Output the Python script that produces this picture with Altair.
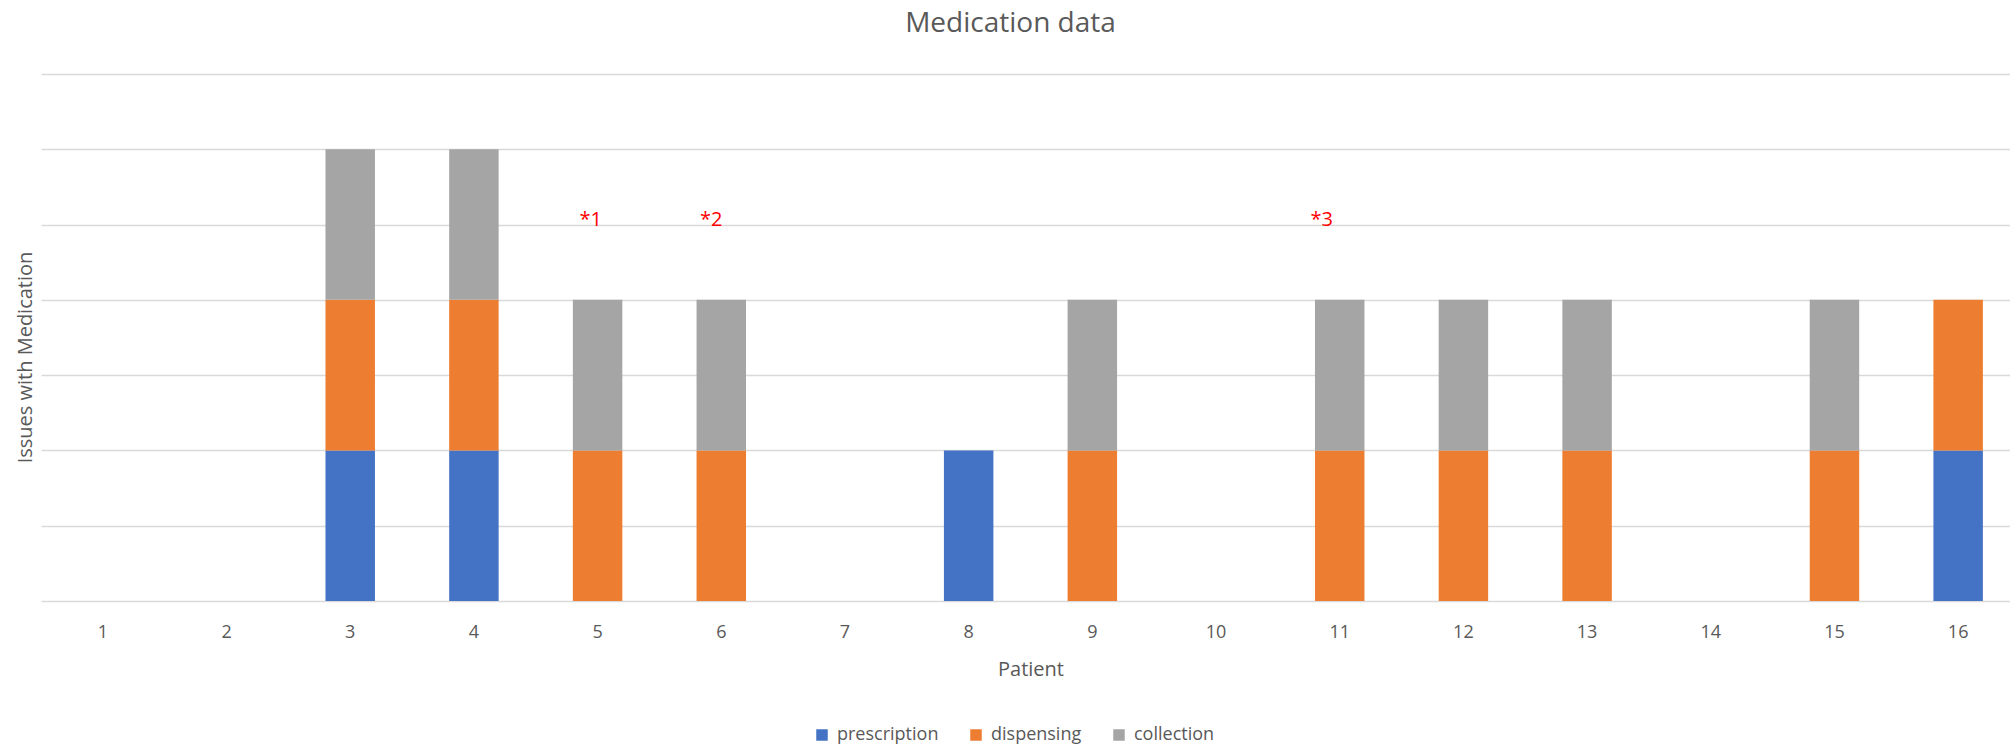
import altair as alt
import pandas as pd

# ---- data ----
patients = list(range(1, 17))
series = ["prescription", "dispensing", "collection"]
prescription = [0, 0, 1, 1, 0, 0, 0, 1, 0, 0, 0, 0, 0, 0, 0, 1]
dispensing = [0, 0, 1, 1, 1, 1, 0, 0, 1, 0, 1, 1, 1, 0, 1, 1]
collection = [0, 0, 1, 1, 1, 1, 0, 0, 1, 0, 1, 1, 1, 0, 1, 0]
colors = ["#4472C4", "#ED7D31", "#A5A5A5"]

note_labels = ["*1", "*2", "*3"]
note_patients = [5, 6, 11]
note_level = [2.5, 2.5, 2.5]
note_dx = [-7, -10, -18]

y_ticks = [0, 0.5, 1, 1.5, 2, 2.5, 3, 3.5]

FONT = "Open Sans"
TXT = "#595959"

rows = []
for name, vals in zip(series, [prescription, dispensing, collection]):
    for p, v in zip(patients, vals):
        rows.append({"Patient": p, "series": name, "order": series.index(name), "value": v})
df = pd.DataFrame(rows)

x_enc = alt.X(
    "Patient:O",
    scale=alt.Scale(domain=patients, paddingInner=0.6, paddingOuter=0.3, range=[0, 1979]),
    axis=alt.Axis(
        title="Patient", labelAngle=0, ticks=False, tickSize=0, domain=False, grid=False,
        labelPadding=22, labelFontSize=18, labelColor=TXT, labelFont=FONT,
        titleFontSize=20, titleColor=TXT, titleFont=FONT, titleFontWeight="normal",
        titleY=74, titleBaseline="alphabetic",
    ),
)

bars = alt.Chart(df).mark_bar().encode(
    x=x_enc,
    y=alt.Y(
        "value:Q",
        stack="zero",
        scale=alt.Scale(domain=[0, 3.5], nice=False),
        axis=alt.Axis(
            title="Issues with Medication", values=y_ticks, labels=False, ticks=False,
            domain=False, grid=True, gridColor="#d9d9d9", gridWidth=1.5,
            titleFontSize=20, titleColor=TXT, titleFont=FONT, titleFontWeight="normal",
            titleAngle=270, titleX=-10, titleY=283, titleAlign="center", titleBaseline="alphabetic",
        ),
    ),
    color=alt.Color(
        "series:N",
        scale=alt.Scale(domain=series, range=colors),
        legend=alt.Legend(
            title=None, orient="none", direction="horizontal", legendX=772, legendY=652,
            symbolType="square", symbolSize=132, symbolStrokeWidth=0, labelFontSize=18,
            labelFont=FONT, labelColor=TXT, labelOffset=6, columnPadding=28, padding=0,
        ),
    ),
    order=alt.Order("order:Q"),
)

layers = [bars]
for lab, p, lv, dx in zip(note_labels, note_patients, note_level, note_dx):
    ndf = pd.DataFrame({"Patient": [p], "level": [lv], "label": [lab]})
    layers.append(
        alt.Chart(ndf).mark_text(
            color="#FF0000", fontSize=20, font=FONT, baseline="alphabetic", align="center", dx=dx, dy=1
        ).encode(
            x=alt.X("Patient:O"),
            y=alt.Y("level:Q"),
            text="label:N",
        )
    )

chart = alt.layer(*layers).properties(
    width=1969,
    height=527,
    title=alt.TitleParams(
        text="Medication data", fontSize=28, font=FONT, color=TXT, fontWeight="normal",
        anchor="middle", dx=-15, offset=14, baseline="alphabetic",
    ),
    autosize=alt.AutoSizeParams(type="none"),
    padding={"left": 41, "top": 74, "right": 0, "bottom": 145},
).configure_view(stroke=None)

chart.save("out.html", embed_options={"renderer": "svg", "actions": False})
